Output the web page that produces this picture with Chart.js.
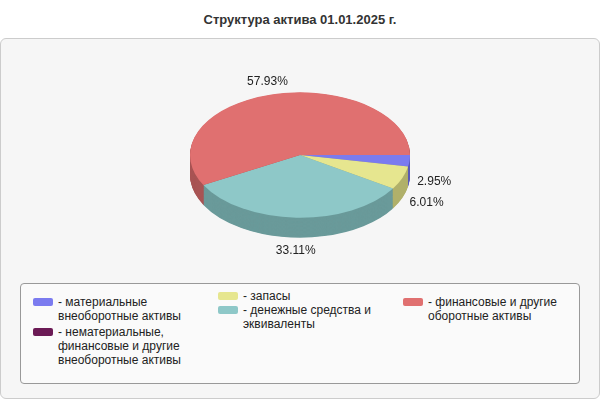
<!DOCTYPE html>
<html>
<head>
<meta charset="utf-8">
<script src="https://cdn.jsdelivr.net/npm/chart.js@4"></script>
<style>
  body { margin: 0; width: 600px; height: 400px; background: #fff; font-family: "Liberation Sans", Arial, sans-serif; position: relative; overflow: hidden; }
  #title { position: absolute; top: 12px; left: 0; width: 600px; text-align: center; font-weight: bold; font-size: 13px; color: #333; }
  #panel { position: absolute; left: 0; top: 38px; width: 598px; height: 359px; background: #f6f6f6; border: 1px solid #ccc; border-radius: 6px; }
  #wrap { position: absolute; left: 0; top: 45px; width: 600px; height: 220px; }
  #legend { position: absolute; left: 20px; top: 283px; width: 558px; height: 99px; background: #fafafa; border: 1px solid #999; border-radius: 4px; }
  .item { position: absolute; font-size: 12px; line-height: 14px; color: #222; width: 160px; }
  .sw { position: absolute; left: -25px; top: 3px; width: 20px; height: 8px; border-radius: 2px; }
</style>
</head>
<body>
<div id="title">Структура актива 01.01.2025 г.</div>
<div id="panel"></div>
<div id="wrap"><canvas id="pie"></canvas></div>
<div id="legend"></div>
<script>
var labels = ["материальные внеоборотные активы", "нематериальные, финансовые и другие внеоборотные активы", "запасы", "денежные средства и эквиваленты", "финансовые и другие оборотные активы"];
var values = [2.95, 0, 6.01, 33.11, 57.93];
var colors = ["#7b7bef", "#6b1a55", "#e6e68f", "#8ec8c8", "#e07070"];
var sides = ["#5a5ab8", "#4c1240", "#b0b06a", "#6a9a9a", "#a85454"];

var squash = 0.57;
var depth = 20;

// легенда
var pos = [[37, 11], [37, 41], [222, 5], [222, 19], [407, 11]];
var leg = document.getElementById("legend");
for (var i = 0; i < labels.length; i++) {
  var d = document.createElement("div");
  d.className = "item";
  d.style.left = pos[i][0] + "px";
  d.style.top = pos[i][1] + "px";
  d.innerHTML = '<span class="sw" style="background:' + colors[i] + '"></span>- ' + labels[i];
  leg.appendChild(d);
}

var plugin3d = {
  id: "plugin3d",
  beforeDatasetsDraw: function (chart) {
    var ctx = chart.ctx;
    var arcs = chart.getDatasetMeta(0).data;
    var cx = arcs[0].x, cy = arcs[0].y;
    ctx.save();
    ctx.translate(cx, cy);
    ctx.scale(1, squash);
    ctx.translate(-cx, -cy);
    for (var k = Math.round(depth / squash); k > 0; k--) {
      arcs.forEach(function (a, i) {
        if (values[i] == 0) return;
        ctx.beginPath();
        ctx.moveTo(a.x, a.y + k);
        ctx.arc(a.x, a.y + k, a.outerRadius, a.startAngle, a.endAngle);
        ctx.closePath();
        ctx.fillStyle = sides[i];
        ctx.fill();
      });
    }
  },
  afterDatasetsDraw: function (chart) {
    var ctx = chart.ctx;
    ctx.restore();
    var arcs = chart.getDatasetMeta(0).data;
    ctx.font = "12px 'Liberation Sans', Arial";
    ctx.fillStyle = "#222";
    ctx.textBaseline = "middle";
    arcs.forEach(function (a, i) {
      if (values[i] == 0) return;
      var m = (a.startAngle + a.endAngle) / 2;
      var c = Math.cos(m), s = Math.sin(m);
      var r = a.outerRadius * 1.2;
      var x = a.x + c * r;
      var y = a.y + s * r * squash + (s > 0 ? depth : 0);
      ctx.textAlign = c > 0.5 ? "left" : (c < -0.5 ? "right" : "center");
      if (c > 0.5) x = a.x + c * a.outerRadius * 1.07;
      ctx.fillText(values[i].toFixed(2) + "%", x, y);
    });
  }
};

new Chart(document.getElementById("pie"), {
  type: "pie",
  data: {
    labels: labels,
    datasets: [{ data: values, backgroundColor: colors, borderWidth: 0 }]
  },
  options: {
    responsive: true,
    maintainAspectRatio: false,
    animation: false,
    rotation: 90,
    layout: { padding: 0 },
    plugins: { legend: { display: false }, tooltip: { enabled: false } }
  },
  plugins: [plugin3d]
});
</script>
</body>
</html>
